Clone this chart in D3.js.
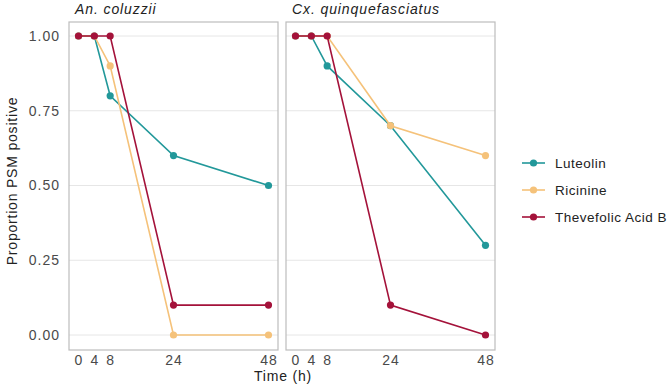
<!DOCTYPE html>
<html>
<head>
<meta charset="utf-8">
<script src="https://cdn.jsdelivr.net/npm/d3@7"></script>
<style>
  body { margin: 0; background: #fff; }
  svg text { font-family: "Liberation Sans", Arial, sans-serif; }
</style>
</head>
<body>
<svg id="chart" width="669" height="386"></svg>
<script>
// data
let times = [0, 4, 8, 24, 48];
let panels = ["An. coluzzii", "Cx. quinquefasciatus"];
let compounds = ["Luteolin", "Ricinine", "Thevefolic Acid B"];
let colors = {"Luteolin": "#22989a", "Ricinine": "#f5c27a", "Thevefolic Acid B": "#a4123a"};
let anLuteolin = [1, 1, 0.8, 0.6, 0.5];
let anRicinine = [1, 1, 0.9, 0, 0];
let anThevefolic = [1, 1, 1, 0.1, 0.1];
let cxLuteolin = [1, 1, 0.9, 0.7, 0.3];
let cxRicinine = [1, 1, 1, 0.7, 0.6];
let cxThevefolic = [1, 1, 1, 0.1, 0];
let yTicks = [0, 0.25, 0.5, 0.75, 1];

let series = {
    "An. coluzzii": [anLuteolin, anRicinine, anThevefolic],
    "Cx. quinquefasciatus": [cxLuteolin, cxRicinine, cxThevefolic]
};

let panelLeft = [69, 286];
let panelWidth = 209;
let panelTop = 22, panelBottom = 350;

let svg = d3.select('#chart');
let yScale = d3.scaleLinear().domain([0, 1]).range([335, 36]);

// y axis labels
svg.append('g')
    .selectAll('text')
    .data(yTicks)
    .enter()
    .append('text')
    .attr('x', 60)
    .attr('y', d => yScale(d))
    .attr('dy', '0.35em')
    .attr('text-anchor', 'end')
    .attr('font-size', 14)
    .attr('letter-spacing', 1)
    .attr('fill', '#4a4a4a')
    .text(d => d3.format('.2f')(d));

svg.append('text')
    .attr('transform', 'translate(17,' + 181 + ') rotate(-90)')
    .attr('text-anchor', 'middle')
    .attr('font-size', 14)
    .attr('letter-spacing', 0.8)
    .attr('fill', '#222')
    .text('Proportion PSM positive');

svg.append('text')
    .attr('x', 283)
    .attr('y', 381)
    .attr('text-anchor', 'middle')
    .attr('font-size', 14)
    .attr('letter-spacing', 0.8)
    .attr('fill', '#222')
    .text('Time (h)');

let line;
panels.forEach((p, pi) => {
    let x0 = panelLeft[pi];
    let pad = panelWidth * 0.0455;
    let xScale = d3.scaleLinear().domain([0, 48]).range([x0 + pad, x0 + panelWidth - pad]);
    let g = svg.append('g');

    // gridlines
    g.selectAll('line.grid')
        .data(yTicks)
        .enter()
        .append('line')
        .attr('x1', x0)
        .attr('x2', x0 + panelWidth)
        .attr('y1', d => yScale(d))
        .attr('y2', d => yScale(d))
        .attr('stroke', '#e6e6e6')
        .attr('stroke-width', 1);

    // strip label
    svg.append('text')
        .attr('x', x0 + 6)
        .attr('y', 14)
        .attr('font-size', 14)
        .attr('letter-spacing', 0.9)
        .attr('font-style', 'italic')
        .attr('fill', '#222')
        .text(p);

    // x tick labels
    g.selectAll('text.xt')
        .data(times)
        .enter()
        .append('text')
        .attr('x', d => xScale(d) + 0.5)
        .attr('y', 365)
        .attr('text-anchor', 'middle')
        .attr('font-size', 14)
        .attr('letter-spacing', 1)
        .attr('fill', '#4a4a4a')
        .text(d => d);

    line = d3.line()
        .x((d, i) => xScale(times[i]))
        .y(d => yScale(d));

    series[p].forEach((vals, ci) => {
        let c = colors[compounds[ci]];
        g.append('path')
            .attr('d', line(vals))
            .attr('fill', 'none')
            .attr('stroke', c)
            .attr('stroke-width', 1.6);
        g.selectAll('circle.c' + ci)
            .data(vals)
            .enter()
            .append('circle')
            .attr('cx', (d, i) => xScale(times[i]))
            .attr('cy', d => yScale(d))
            .attr('r', 3.6)
            .attr('fill', c);
    });

    // panel border
    g.append('rect')
        .attr('x', x0)
        .attr('y', panelTop)
        .attr('width', panelWidth)
        .attr('height', panelBottom - panelTop)
        .attr('fill', 'none')
        .attr('stroke', '#bdbdbd')
        .attr('stroke-width', 1.2);
});

// legend
let legend = svg.append('g').attr('transform', 'translate(522,163)');
let gr = legend.selectAll('g')
    .data(compounds)
    .enter()
    .append('g')
    .attr('transform', (d, i) => 'translate(0,' + (i * 27) + ')');
gr.append('line')
    .attr('x1', 0).attr('x2', 23)
    .attr('stroke', d => colors[d])
    .attr('stroke-width', 1.6);
gr.append('circle')
    .attr('cx', 11.5)
    .attr('r', 3.6)
    .attr('fill', d => colors[d]);
gr.append('text')
    .attr('x', 33)
    .attr('dy', '0.35em')
    .attr('font-size', 13.5)
    .attr('letter-spacing', 0.5)
    .attr('fill', '#222')
    .text(d => d);
</script>
</body>
</html>
